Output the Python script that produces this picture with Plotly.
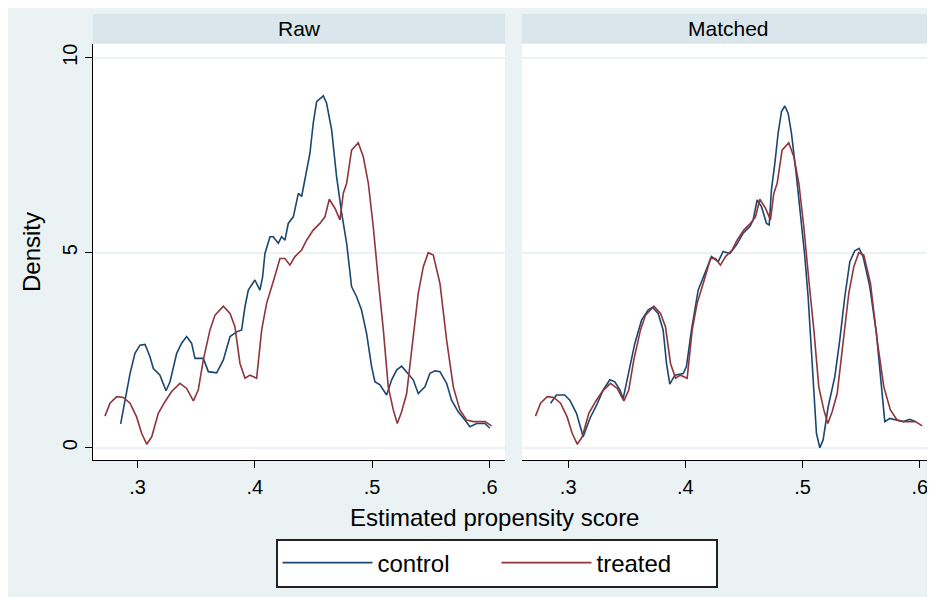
import plotly.graph_objects as go

# ---------------- data ----------------
raw_control_x = [.2855, .2935, .2977, .302, .3063, .3105, .3134, .319, .3242, .3276, .3333, .3375,
                 .3418, .346, .3489, .356, .3603, .3674, .3731, .3788, .3845, .3887, .3916, .3944,
                 .4, .4043, .4066, .4086, .4129, .4157, .42, .4228, .4257, .4285, .4328, .4371,
                 .4399, .4427, .447, .4498, .4527, .4584, .4612, .4655, .4697, .4741, .4783,
                 .4825, .4868, .491, .4953, .4996, .5024, .5067, .5124, .5167, .5209, .5252,
                 .5295, .5351, .5394, .5451, .5494, .5536, .5579, .5636, .5678, .5735, .5792,
                 .5835, .5892, .5963, .6005]
raw_control_y = [0.61, 1.9, 2.42, 2.63, 2.65, 2.33, 2.03, 1.86, 1.46, 1.69, 2.42, 2.68,
                 2.85, 2.68, 2.29, 2.29, 1.95, 1.92, 2.25, 2.85, 2.97, 3.02, 3.62, 4.04,
                 4.3, 4.04, 4.38, 4.98, 5.41, 5.41, 5.24, 5.41, 5.32, 5.75, 5.92, 6.52,
                 6.44, 6.86, 7.55, 8.32, 8.87, 9.02, 8.83, 8.15, 6.95, 6.01, 5.24,
                 4.13, 3.87, 3.53, 2.93, 2.08, 1.69, 1.61, 1.35, 1.74, 1.99, 2.09,
                 1.95, 1.74, 1.39, 1.56, 1.91, 1.97, 1.95, 1.65, 1.22, 0.92, 0.71,
                 0.54, 0.62, 0.62, 0.50]

treated_x = [.2721, .2764, .2821, .2878, .2935, .2991, .3034, .3077, .312, .3176, .3233, .329,
             .3361, .3418, .3475, .3517, .356, .3617, .366, .3731, .3788, .383, .3873, .3916,
             .3958, .4015, .4058, .41, .4157, .4214, .4257, .4299, .4342, .4399, .4441, .4498,
             .4555, .4598, .4635, .4683, .4726, .4754, .4783, .4825, .4882, .4925, .4968,
             .501, .5053, .5096, .5138, .5181, .5215, .5252, .5295, .5351, .5394, .5437,
             .5479, .5522, .5579, .5636, .5693, .5749, .5806, .5863, .5963, .602]
treated_y = [0.81, 1.14, 1.31, 1.29, 1.14, 0.79, 0.37, 0.09, 0.28, 0.88, 1.18, 1.44,
             1.65, 1.52, 1.2, 1.48, 2.25, 3.02, 3.4, 3.63, 3.44, 3.1, 2.16, 1.78,
             1.86, 1.78, 3.02, 3.7, 4.26, 4.85, 4.85, 4.68, 4.9, 5.07, 5.32, 5.58,
             5.75, 5.92, 6.37, 6.14, 5.84, 6.52, 6.78, 7.63, 7.82, 7.46, 6.78,
             5.67, 4.3, 3.02, 1.56, 0.97, 0.62, 0.92, 1.39, 2.85, 3.96, 4.64,
             5.0, 4.94, 4.21, 2.76, 1.56, 0.97, 0.71, 0.67, 0.67, 0.56]

matched_control_x = [.285, .29, .297, .3014, .3071, .3114, .3128, .3185, .3242, .3299, .3355,
                     .3398, .3441, .3469, .3512, .3569, .3626, .3682, .3719, .3768, .381,
                     .3839, .3867, .391, .3981, .4009, .4052, .4109, .4166, .4223, .428,
                     .4322, .4379, .4436, .4493, .455, .4578, .4612, .4649, .4692, .4715,
                     .4734, .4763, .4791, .482, .4848, .4877, .4905, .4948, .499, .5019,
                     .5047, .509, .5118, .5147, .5175, .5218, .5275, .5317, .536, .5403,
                     .5445, .5482, .5516, .5573, .563, .5673, .5701, .5744, .5801, .5858,
                     .5915, .5958]
matched_control_y = [1.14, 1.35, 1.35, 1.22, 0.88, 0.37, 0.28, 0.75, 1.09, 1.48, 1.74,
                     1.69, 1.48, 1.26, 1.9, 2.68, 3.27, 3.53, 3.6, 3.44, 3.02,
                     2.16, 1.63, 1.86, 1.9, 2.08, 3.02, 4.04, 4.47, 4.9, 4.77,
                     5.03, 4.98, 5.2, 5.5, 5.67, 5.84, 6.35, 6.18, 5.75, 5.71,
                     6.61, 7.29, 8.06, 8.62, 8.76, 8.57, 8.06, 6.95, 5.75, 4.9,
                     3.87, 1.74, 0.37, 0.0, 0.2, 1.05, 1.82, 2.76, 3.87, 4.77,
                     5.05, 5.11, 4.9, 4.13, 2.93, 1.56, 0.67, 0.75, 0.71, 0.67,
                     0.73, 0.67]

panel_titles = ["Raw", "Matched"]
x_tick_vals = [0.3, 0.4, 0.5, 0.6]
x_tick_text = [".3", ".4", ".5", ".6"]
y_tick_vals = [0, 5, 10]
y_tick_text = ["0", "5", "10"]
series_names = ["control", "treated"]

# ---------------- style ----------------
W, H = 927, 589          # page adds an 8px body margin on top/left
OFF = 8
BLUE = "#1A476F"
RED = "#90353B"
BG = "#EAF2F3"
STRIP = "#D9E6EB"
FONT = "Liberation Sans, Arial, sans-serif"


def px_x(p):
    return (p - OFF) / W


def px_y(p):
    return 1 - (p - OFF) / H


fig = go.Figure()
fig.add_trace(go.Scatter(x=raw_control_x, y=raw_control_y, mode="lines", name=series_names[0],
                         legendgroup="c", line=dict(color=BLUE, width=1.6), xaxis="x", yaxis="y"))
fig.add_trace(go.Scatter(x=treated_x, y=treated_y, mode="lines", name=series_names[1],
                         legendgroup="t", line=dict(color=RED, width=1.6), xaxis="x", yaxis="y"))
fig.add_trace(go.Scatter(x=matched_control_x, y=matched_control_y, mode="lines", name=series_names[0],
                         legendgroup="c", showlegend=False, line=dict(color=BLUE, width=1.6),
                         xaxis="x2", yaxis="y2"))
fig.add_trace(go.Scatter(x=treated_x, y=treated_y, mode="lines", name=series_names[1],
                         legendgroup="t", showlegend=False, line=dict(color=RED, width=1.6),
                         xaxis="x2", yaxis="y2"))

ydom = [px_y(460), px_y(44)]
yrange = [-0.315, 10.35]

xcommon = dict(tickmode="array", tickvals=x_tick_vals, ticktext=x_tick_text, ticks="outside",
               ticklen=7, tickwidth=1.3, tickcolor="black", showline=True, linecolor="black",
               linewidth=1.3, showgrid=False, zeroline=False,
               tickfont=dict(family=FONT, size=20, color="black"), ticklabelstandoff=2)

fig.update_layout(
    width=W, height=H,
    margin=dict(l=0, r=0, t=0, b=0, autoexpand=False),
    paper_bgcolor=BG, plot_bgcolor="white",
    font=dict(family=FONT, color="black"),
    xaxis=dict(domain=[px_x(93), px_x(505)], range=[0.2619, 0.6134], anchor="y", **xcommon),
    xaxis2=dict(domain=[px_x(522), px_x(934)], range=[0.2606, 0.6121], anchor="y2", **xcommon),
    yaxis=dict(domain=ydom, range=yrange, anchor="x", tickmode="array", tickvals=y_tick_vals,
               ticktext=y_tick_text, tickangle=-90, ticks="outside", ticklen=7, tickwidth=1.3,
               tickcolor="black", showline=True, linecolor="black", linewidth=1.3,
               showgrid=True, gridcolor=BG, gridwidth=1.5, zeroline=False,
               tickfont=dict(family=FONT, size=20, color="black"), ticklabelstandoff=0,
               title=dict(text="Density", font=dict(family=FONT, size=24, color="black"),
                          standoff=11)),
    yaxis2=dict(domain=ydom, range=yrange, anchor="x2", tickmode="array", tickvals=y_tick_vals,
                showticklabels=False, ticks="", showline=False, showgrid=True, gridcolor=BG,
                gridwidth=1.5, zeroline=False),
    showlegend=True,
    legend=dict(orientation="h", x=px_x(496.5), y=px_y(563), xanchor="center", yanchor="middle",
                bgcolor="white", bordercolor="#222222", borderwidth=2,
                font=dict(family=FONT, size=24, color="black"), entrywidth=114,
                itemwidth=90, traceorder="normal"),
)

shapes = [
    # panel header strips
    dict(type="rect", xref="x domain", yref="paper", x0=0, x1=1, y0=px_y(43.5), y1=px_y(14),
         fillcolor=STRIP, line=dict(width=0), layer="below"),
    dict(type="rect", xref="x2 domain", yref="paper", x0=0, x1=1.01, y0=px_y(43.5), y1=px_y(14),
         fillcolor=STRIP, line=dict(width=0), layer="below"),
]
fig.update_layout(shapes=shapes)

annotations = [
    dict(text=panel_titles[0], xref="x domain", yref="paper", x=0.5, y=px_y(28.5),
         xanchor="center", yanchor="middle", showarrow=False,
         font=dict(family=FONT, size=21, color="black")),
    dict(text=panel_titles[1], xref="x2 domain", yref="paper", x=0.5, y=px_y(28.5),
         xanchor="center", yanchor="middle", showarrow=False,
         font=dict(family=FONT, size=21, color="black")),
    dict(text="Estimated propensity score", xref="paper", yref="paper", x=px_x(494), y=px_y(517),
         xanchor="center", yanchor="middle", showarrow=False,
         font=dict(family=FONT, size=24, color="black")),
]
fig.update_layout(annotations=annotations)

fig.write_html("out.html")
